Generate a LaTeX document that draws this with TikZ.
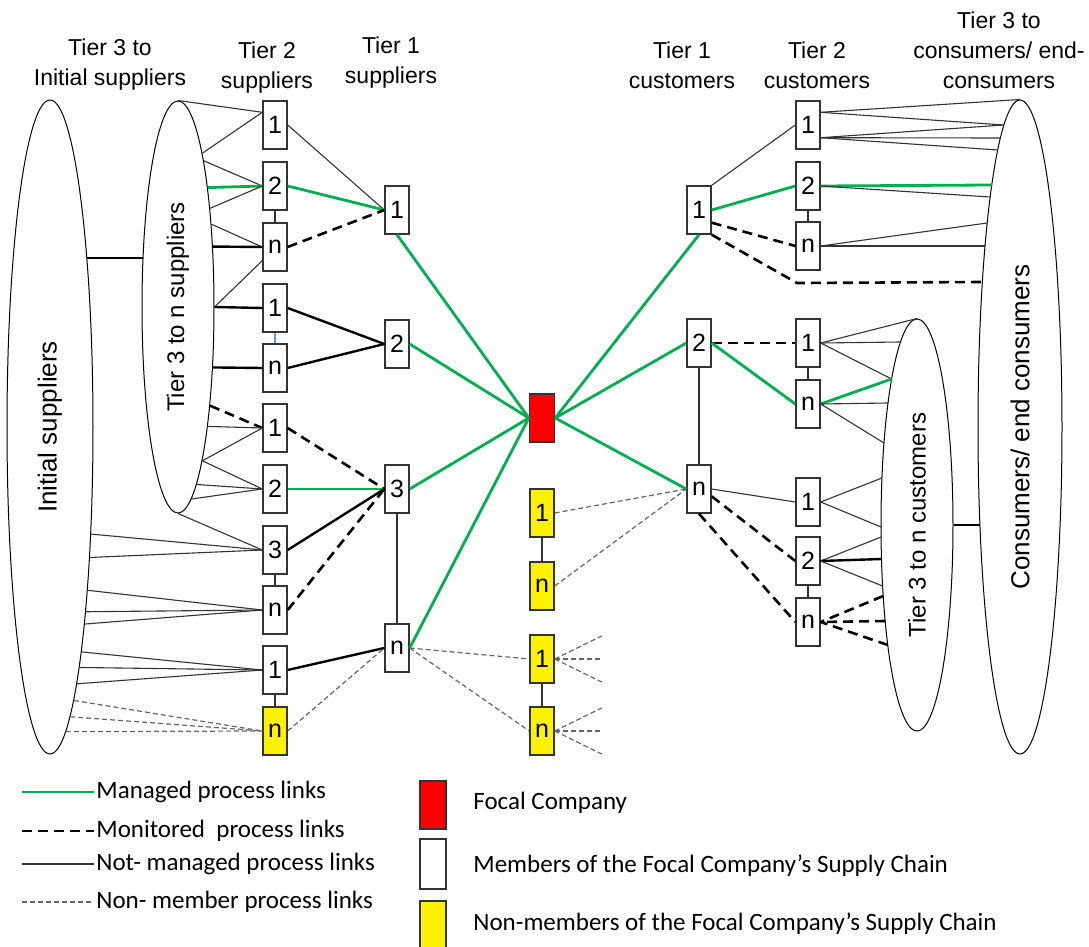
\documentclass[tikz,border=0pt]{standalone}
\usepackage{graphicx}
\usepackage{fontspec}
\setmainfont{Liberation Sans}
\newfontfamily\legfont{Carlito}
\usetikzlibrary{shapes.geometric, calc}
\definecolor{mgreen}{RGB}{0,176,80}
\definecolor{linkblue}{RGB}{110,150,205}

\tikzset{
  member/.style={rectangle, draw=black!80, line width=0.7pt, fill=white, minimum width=12pt, minimum height=24pt, inner sep=0pt, font=\fontsize{12.5}{14}\selectfont},
  nonmem/.style={member, fill=yellow},
  focalbox/.style={member, fill=red},
  tierset/.style={ellipse, draw, line width=0.5pt, inner sep=0pt},
  tierlabel/.style={align=center, font=\fontsize{11.5}{15}\selectfont},
  managed/.style={draw=mgreen, line width=1.4pt},
  monitored/.style={draw=black, line width=1.3pt, dash pattern=on 5pt off 3pt},
  notmanaged/.style={draw=black!80, line width=0.55pt},
  heavy/.style={draw=black, line width=1.2pt},
  nonmemlink/.style={draw=black!60, line width=0.6pt, dash pattern=on 2.5pt off 1.5pt},
  legtext/.style={anchor=west, inner sep=1pt, font=\legfont\fontsize{12.5}{14}\selectfont}
}

\begin{document}
\begin{tikzpicture}[x=0.5pt, y=-0.5pt]
  \useasboundingbox (0,0) rectangle (1089,947);

  \node[tierlabel] (lab1) at (110,65) {Tier 3 to\\Initial suppliers};
  \node[tierlabel] (lab2) at (267,68) {Tier 2\\suppliers};
  \node[tierlabel] (lab3) at (391,63) {Tier 1\\suppliers};
  \node[tierlabel] (lab4) at (682,65) {Tier 1\\customers};
  \node[tierlabel] (lab5) at (817,65) {Tier 2\\customers};
  \node[tierlabel] (lab6) at (999,50) {Tier 3 to\\consumers/ end-\\consumers};

  \node[tierset, minimum width=43pt, minimum height=327pt, font=\fontsize{13}{15}\selectfont] (initsup) at (50,427) {\rotatebox{90}{Initial suppliers}};
  \node[tierset, minimum width=36pt, minimum height=206pt, font=\fontsize{12}{14}\selectfont] (tier3sup) at (178,307) {\rotatebox{90}{Tier 3 to n suppliers}};
  \node[tierset, minimum width=36pt, minimum height=206pt, font=\fontsize{12}{14}\selectfont] (tier3cus) at (917,525) {\rotatebox{90}{Tier 3 to n customers}};
  \node[tierset, minimum width=42pt, minimum height=327pt, font=\fontsize{13}{15}\selectfont] (endcons) at (1020,427) {\rotatebox{90}{Consumers/ end consumers}};

  \foreach \n/\px/\py in {is/87/258, ts/143/258,
    ec1/1003.8/125, ec2/1000.4/138, ec3/997.7/150, ec4/991.8/185, ec5/990.1/197,
    ec6/987.2/223, ec7/985/246, ec8/982.4/282, ec9/979.9/525,
    cc1/900.5/342, cc2/891.6/379, cc3/888/403, cc4/884/443, cc5/881.9/478, cc6/881/527,
    cc7/881.1/537, cc8/881.5/559, cc9/882.6/586, cc10/883.2/596, cc11/885.1/621, cc12/887.8/645}
    \coordinate (\n) at (\px,\py);

  \node[member] (s2a) at (275,125) {1};
  \node[member] (s2b) at (275,186) {2};
  \node[member] (s2c) at (275,247) {n};
  \node[member] (s2d) at (275,308) {1};
  \node[member] (s2e) at (275,368) {n};
  \node[member] (s2f) at (275,428) {1};
  \node[member] (s2g) at (275,489) {2};
  \node[member] (s2h) at (275,550) {3};
  \node[member] (s2i) at (275,610) {n};
  \node[member] (s2j) at (275,670) {1};
  \node[nonmem] (s2k) at (275,731) {n};

  \node[member] (s1a) at (397,210) {1};
  \node[member] (s1b) at (397,344) {2};
  \node[member] (s1c) at (397,489) {3};
  \node[member] (s1d) at (397,648) {n};

  \node[focalbox, minimum width=12.5pt] (focal) at (542,418) {};
  \node[nonmem] (y1a) at (542,513) {1};
  \node[nonmem] (y1b) at (542,586) {n};
  \node[nonmem] (y2a) at (542,659) {1};
  \node[nonmem] (y2b) at (542,731) {n};

  \node[member] (c1a) at (699,210) {1};
  \node[member] (c1b) at (699,343) {2};
  \node[member] (c1c) at (699,489) {n};

  \node[member] (c2a) at (808,125) {1};
  \node[member] (c2b) at (808,186) {2};
  \node[member] (c2c) at (808,246) {n};
  \node[member] (c2d) at (808,343) {1};
  \node[member] (c2e) at (808,404) {n};
  \node[member] (c2f) at (808,502) {1};
  \node[member] (c2g) at (808,561) {2};
  \node[member] (c2h) at (808,622) {n};

  \draw[notmanaged] (s2b) -- (s2c);
  \draw[draw=linkblue, line width=0.6pt] (s2d) -- (s2e);
  \draw[notmanaged] (s2h) -- (s2i);
  \draw[notmanaged] (s2j) -- (s2k);
  \draw[notmanaged] (s1c) -- (s1d);
  \draw[notmanaged] (y1a) -- (y1b);
  \draw[notmanaged] (y2a) -- (y2b);
  \draw[notmanaged] (c1b) -- (c1c);
  \draw[notmanaged] (c2b) -- (c2c);
  \draw[notmanaged] (c2d) -- (c2e);
  \draw[notmanaged] (c2g) -- (c2h);

  \draw[heavy] (is) -- (ts);
  \draw[heavy] (tier3cus.east) -- (ec9);

  \draw[notmanaged] (tier3sup.north) -- (s2a.135);
  \draw[notmanaged] (tier3sup.81.7) -- (s2a.135);
  \draw[notmanaged] (tier3sup.80) -- (s2b.west);
  \draw[managed] (tier3sup.76.5) -- (s2b.west);
  \draw[notmanaged] (tier3sup.72.1) -- (s2b.west);
  \draw[notmanaged] (tier3sup.68.6) -- (s2c.west);
  \draw[heavy] (tier3sup.60.6) -- (s2c.west);
  \draw[notmanaged] (tier3sup.east) -- (s2c.227);
  \draw[heavy] (tier3sup.east) -- (s2d.west);
  \draw[heavy] (tier3sup.-60.6) -- (s2e.west);
  \draw[monitored] (tier3sup.-72.5) -- (s2f.west);
  \draw[notmanaged] (tier3sup.-76.3) -- (s2f.west);
  \draw[notmanaged] (tier3sup.-81.4) -- (s2f.west);
  \draw[notmanaged] (tier3sup.-81.4) -- (s2g.west);
  \draw[notmanaged] (tier3sup.-84.6) -- (s2g.west);
  \draw[notmanaged] (tier3sup.-86.6) -- (s2g.west);
  \draw[notmanaged] (tier3sup.south) -- (s2h.west);

  \draw[notmanaged] (initsup.-69.8) -- (s2h.west);
  \draw[notmanaged] (initsup.-73.7) -- (s2h.west);
  \draw[notmanaged] (initsup.-77.8) -- (s2i.west);
  \draw[notmanaged] (initsup.-79) -- (s2i.west);
  \draw[notmanaged] (initsup.-80) -- (s2i.west);
  \draw[notmanaged] (initsup.-82.5) -- (s2j.west);
  \draw[notmanaged] (initsup.-83.4) -- (s2j.west);
  \draw[notmanaged] (initsup.-84) -- (s2j.west);
  \draw[nonmemlink] (initsup.-85.5) -- (s2k.west);
  \draw[nonmemlink] (initsup.-86.2) -- (s2k.west);
  \draw[nonmemlink] (initsup.-87) -- (s2k.west);

  \draw[notmanaged] (s2a.east) -- (s1a.west);
  \draw[managed] (s2b.east) -- (s1a.west);
  \draw[monitored] (s2c.east) -- (s1a.west);
  \draw[heavy] (s2d.east) -- (s1b.west);
  \draw[heavy] (s2e.east) -- (s1b.west);
  \draw[monitored] (s2f.east) -- (s1c.west);
  \draw[managed] (s2g.east) -- (s1c.west);
  \draw[heavy] (s2h.east) -- (s1c.west);
  \draw[monitored] (s2i.east) -- (s1c.west);
  \draw[heavy] (s2j.east) -- (s1d.west);
  \draw[nonmemlink] (s2k.east) -- (s1d.west);

  \draw[managed] (s1a.south) -- (focal.west);
  \draw[managed] (s1b.east) -- (focal.west);
  \draw[managed] (s1c.east) -- (focal.west);
  \draw[managed] (s1d.east) -- (focal.west);
  \draw[managed] (focal.east) -- (c1a.south);
  \draw[managed] (focal.east) -- (c1b.west);
  \draw[managed] (focal.east) -- (c1c.west);

  \draw[nonmemlink] (y1a.east) -- (c1c.west);
  \draw[nonmemlink] (y1b.east) -- (c1c.west);
  \draw[nonmemlink] (s1d.east) -- (y2a.west);
  \draw[nonmemlink] (s1d.east) -- (y2b.west);
  \foreach \b in {y2a,y2b}{
    \foreach \d [count=\i] in {-23,0,23}{
      \coordinate (\b r\i) at ($(\b.east)+(47,\d)$);
      \draw[nonmemlink] (\b.east) -- (\b r\i);
    }
  }

  \coordinate (bend) at (797,283);
  \draw[notmanaged] (c1a.north east) -- (c2a.west);
  \draw[managed] (c1a.east) -- (c2b.west);
  \draw[monitored] (c1a.-45) -- (c2c.west);
  \draw[monitored] (c1a.south east) -- (bend) -- (ec8);

  \draw[notmanaged] (c2a.45) -- (endcons.north);
  \draw[notmanaged] (c2a.45) -- (ec1);
  \draw[notmanaged] (c2a.-45) -- (ec1);
  \draw[notmanaged] (c2a.-45) -- (ec2);
  \draw[notmanaged] (c2a.-45) -- (ec3);
  \draw[managed] (c2b.east) -- (ec4);
  \draw[notmanaged] (c2b.east) -- (ec5);
  \draw[notmanaged] (c2c.east) -- (ec6);
  \draw[notmanaged] (c2c.east) -- (ec7);

  \draw[monitored] (c1b.east) -- (c2d.west);
  \draw[managed] (c1b.east) -- (c2e.west);
  \draw[notmanaged] (c2d.east) -- (tier3cus.north);
  \draw[notmanaged] (c2d.east) -- (cc1);
  \draw[notmanaged] (c2d.east) -- (cc2);
  \draw[managed] (c2e.east) -- (cc2);
  \draw[notmanaged] (c2e.east) -- (cc3);
  \draw[notmanaged] (c2e.east) -- (cc4);

  \draw[notmanaged] (c1c.east) -- (c2f.west);
  \draw[monitored] (c1c.-30) -- (c2g.west);
  \draw[monitored] (c1c.south) -- (c2h.west);
  \draw[notmanaged] (c2f.east) -- (cc5);
  \draw[notmanaged] (c2f.east) -- (cc6);
  \draw[notmanaged] (c2g.east) -- (cc7);
  \draw[heavy] (c2g.east) -- (cc8);
  \draw[notmanaged] (c2g.east) -- (cc9);
  \draw[monitored] (cc10) -- (c2h.east);
  \draw[monitored] (cc11) -- (c2h.east);
  \draw[monitored] (cc12) -- (c2h.east);

  \coordinate (lg1) at (22,792);
  \coordinate (lg2) at (22,831);
  \coordinate (lg3) at (22,864);
  \coordinate (lg4) at (22,902);
  \node[legtext] (lt1) at (94,792) {Managed process links};
  \node[legtext] (lt2) at (94,831) {Monitored\ \ process links};
  \node[legtext] (lt3) at (94,864) {Not- managed process links};
  \node[legtext] (lt4) at (94,902) {Non- member process links};
  \draw[managed] (lg1) -- (lt1.west);
  \draw[monitored] (lg2) -- (lt2.west);
  \draw[notmanaged] (lg3) -- (lt3.west);
  \draw[nonmemlink] (lg4) -- (lt4.west);

  \node[focalbox, minimum width=13pt] (lf) at (433,805) {};
  \node[member, minimum width=13pt, minimum height=25pt] (lm) at (433,864) {};
  \node[nonmem, minimum width=13pt] (ln) at (433,925) {};
  \node[legtext] (lft) at (471,803) {Focal Company};
  \node[legtext] (lmt) at (471,866) {Members of the Focal Company’s Supply Chain};
  \node[legtext] (lnt) at (471,924) {Non-members of the Focal Company’s Supply Chain};
\end{tikzpicture}
\end{document}
